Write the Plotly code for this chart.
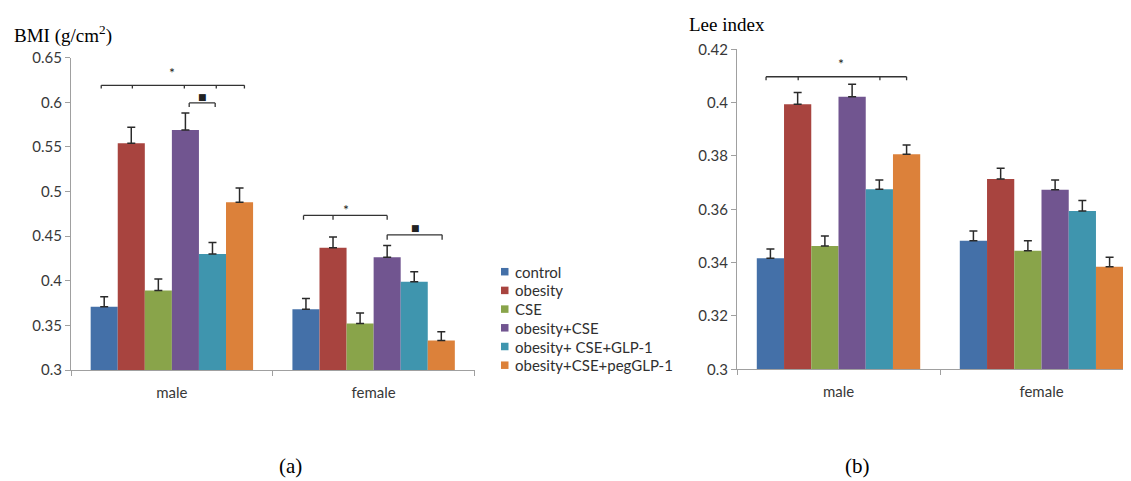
import plotly.graph_objects as go

W, H = 1131, 481
# the page places the figure 8px in from the top-left corner (default body margin)
OFF = 8

groups = ["male", "female"]
series = ["control", "obesity", "CSE", "obesity+CSE", "obesity+ CSE+GLP-1", "obesity+CSE+pegGLP-1"]
colors = ["#4470A8", "#A8443F", "#89A44A", "#715590", "#3F95AE", "#DC813A"]

bmi_male = [0.371, 0.554, 0.389, 0.569, 0.430, 0.488]
bmi_female = [0.368, 0.437, 0.352, 0.4265, 0.399, 0.333]
bmi_err_male = [0.011, 0.018, 0.013, 0.019, 0.013, 0.016]
bmi_err_female = [0.012, 0.012, 0.012, 0.013, 0.011, 0.010]

lee_male = [0.3416, 0.3994, 0.3462, 0.4022, 0.3675, 0.3806]
lee_female = [0.3482, 0.3714, 0.3445, 0.3673, 0.3594, 0.3385]
lee_err_male = [0.0035, 0.0044, 0.0038, 0.0047, 0.0035, 0.0035]
lee_err_female = [0.0037, 0.0040, 0.0037, 0.0037, 0.0039, 0.0035]

bmi_ticks = [0.3, 0.35, 0.4, 0.45, 0.5, 0.55, 0.6, 0.65]
bmi_ticktext = ["0.3", "0.35", "0.4", "0.45", "0.5", "0.55", "0.6", "0.65"]
lee_ticks = [0.3, 0.32, 0.34, 0.36, 0.38, 0.4, 0.42]
lee_ticktext = ["0.3", "0.32", "0.34", "0.36", "0.38", "0.4", "0.42"]

BARGAP = 0.195
NS = len(series)
BW = (1 - BARGAP) / NS


def bx(group_idx, k):
    return group_idx + (k - (NS - 1) / 2) * BW


def fx(xpage):
    return (xpage - OFF) / W


def fy(ypage):
    return (H - (ypage - OFF)) / H


TICKFONT = dict(family="Lato", size=15, color="#383838")
AXCOL = "#A0A0A0"

fig = go.Figure()

for k in range(NS):
    fig.add_trace(go.Bar(
        x=groups, y=[bmi_male[k], bmi_female[k]], name=series[k],
        marker=dict(color=colors[k], line=dict(width=0)),
        error_y=dict(type="data", symmetric=False,
                     array=[bmi_err_male[k], bmi_err_female[k]], arrayminus=[0, 0],
                     color="#2a2a2a", thickness=1.5, width=4),
        showlegend=False, xaxis="x", yaxis="y"))
    fig.add_trace(go.Bar(
        x=groups, y=[lee_male[k], lee_female[k]], name=series[k],
        marker=dict(color=colors[k], line=dict(width=0)),
        error_y=dict(type="data", symmetric=False,
                     array=[lee_err_male[k], lee_err_female[k]], arrayminus=[0, 0],
                     color="#2a2a2a", thickness=1.5, width=4),
        showlegend=False, xaxis="x2", yaxis="y2"))

xcommon = dict(type="category", categoryorder="array", categoryarray=groups,
               showline=True, linecolor=AXCOL, linewidth=1, ticks="outside",
               tickson="boundaries", ticklen=5, tickcolor=AXCOL, showgrid=False,
               zeroline=False, tickfont=TICKFONT, ticklabelstandoff=9, automargin=False)
ycommon = dict(showline=True, linecolor=AXCOL, linewidth=1, ticks="outside",
               ticklen=5, tickcolor=AXCOL, showgrid=False, zeroline=False,
               tickfont=TICKFONT, automargin=False)

R_LEFT = 737
R_END = OFF + W  # page x of the figure's right edge
fig.update_layout(
    width=W, height=H, margin=dict(l=0, r=0, t=0, b=0, autoexpand=False),
    paper_bgcolor="white", plot_bgcolor="white",
    barmode="group", bargap=BARGAP, bargroupgap=0,
    xaxis=dict(domain=[fx(71), fx(474.5)], range=[-0.5, 1.5], anchor="y", **xcommon),
    yaxis=dict(domain=[fy(370), fy(57.7)], range=[0.3, 0.65], anchor="x",
               tickvals=bmi_ticks, ticktext=bmi_ticktext, **ycommon),
    xaxis2=dict(domain=[fx(R_LEFT), 1.0], range=[-0.5, -0.5 + (R_END - R_LEFT) / 203],
                anchor="y2", **xcommon),
    yaxis2=dict(domain=[fy(369.3), fy(49.3)], range=[0.3, 0.42], anchor="x2",
                tickvals=lee_ticks, ticktext=lee_ticktext, **ycommon),
    showlegend=False,
)

# legend (drawn from the series/colour lists): small square swatch + label
LEG_X, LEG_Y0, LEG_DY = 501, 271.7, 18.7
for k in range(NS):
    yc = LEG_Y0 + k * LEG_DY
    fig.add_shape(type="rect", xref="paper", yref="paper",
                  x0=fx(LEG_X), x1=fx(LEG_X + 7.5),
                  y0=fy(yc + 3.75), y1=fy(yc - 3.75),
                  fillcolor=colors[k], line=dict(width=0))
    fig.add_annotation(xref="paper", yref="paper", x=fx(LEG_X + 12), y=fy(yc),
                       xanchor="left", yanchor="middle", showarrow=False, text=series[k],
                       font=dict(family="Lato", size=15, color="#303030"))

# significance brackets
brackets = [
    ("x", "y", 0, -0.11, 5.18, [1.04, 2.96, 4.14], 0.619, 0.6155, "*", 2.5, 0.6337),
    ("x", "y", 0, 3.14, 4.10, [], 0.5993, 0.5948, "■", 3.62, 0.6065),
    ("x", "y", 1, -0.09, 3.0, [1.0], 0.4732, 0.4684, "*", 1.49, 0.4804),
    ("x", "y", 1, 3.0, 5.03, [], 0.4515, 0.4459, "■", 4.04, 0.459),
    ("x2", "y2", 0, -0.16, 5.0, [1.02, 4.02], 0.4097, 0.4084, "*", 2.59, 0.4147),
]
BCOL = "#333333"
for xr, yr, g, kl, kr, inner, yl, yt, mark, mk, my in brackets:
    xl, xrr = bx(g, kl), bx(g, kr)
    fig.add_shape(type="line", xref=xr, yref=yr, x0=xl, x1=xrr, y0=yl, y1=yl,
                  line=dict(color=BCOL, width=1.3))
    for kk in [kl, kr] + inner:
        xx = bx(g, kk)
        fig.add_shape(type="line", xref=xr, yref=yr, x0=xx, x1=xx, y0=yl, y1=yt,
                      line=dict(color=BCOL, width=1.3))
    fig.add_annotation(xref=xr, yref=yr, x=bx(g, mk), y=my, text=mark, showarrow=False,
                       font=dict(family="DejaVu Sans" if mark == "■" else "Lato",
                                 size=9 if mark == "■" else 14, color="#222222"))

SERIF = "Liberation Serif"
fig.add_annotation(xref="paper", yref="paper", x=fx(12), y=fy(35), xanchor="left",
                   yanchor="middle", showarrow=False, text="BMI (g/cm<sup>2</sup>)",
                   font=dict(family=SERIF, size=19, color="#000000"))
fig.add_annotation(xref="paper", yref="paper", x=fx(687), y=fy(24), xanchor="left",
                   yanchor="middle", showarrow=False, text="Lee index",
                   font=dict(family=SERIF, size=19, color="#000000"))
fig.add_annotation(xref="paper", yref="paper", x=fx(290), y=fy(466), xanchor="center",
                   yanchor="middle", showarrow=False, text="(a)",
                   font=dict(family=SERIF, size=21, color="#000000"))
fig.add_annotation(xref="paper", yref="paper", x=fx(857), y=fy(466), xanchor="center",
                   yanchor="middle", showarrow=False, text="(b)",
                   font=dict(family=SERIF, size=21, color="#000000"))

fig.write_html("out.html")
